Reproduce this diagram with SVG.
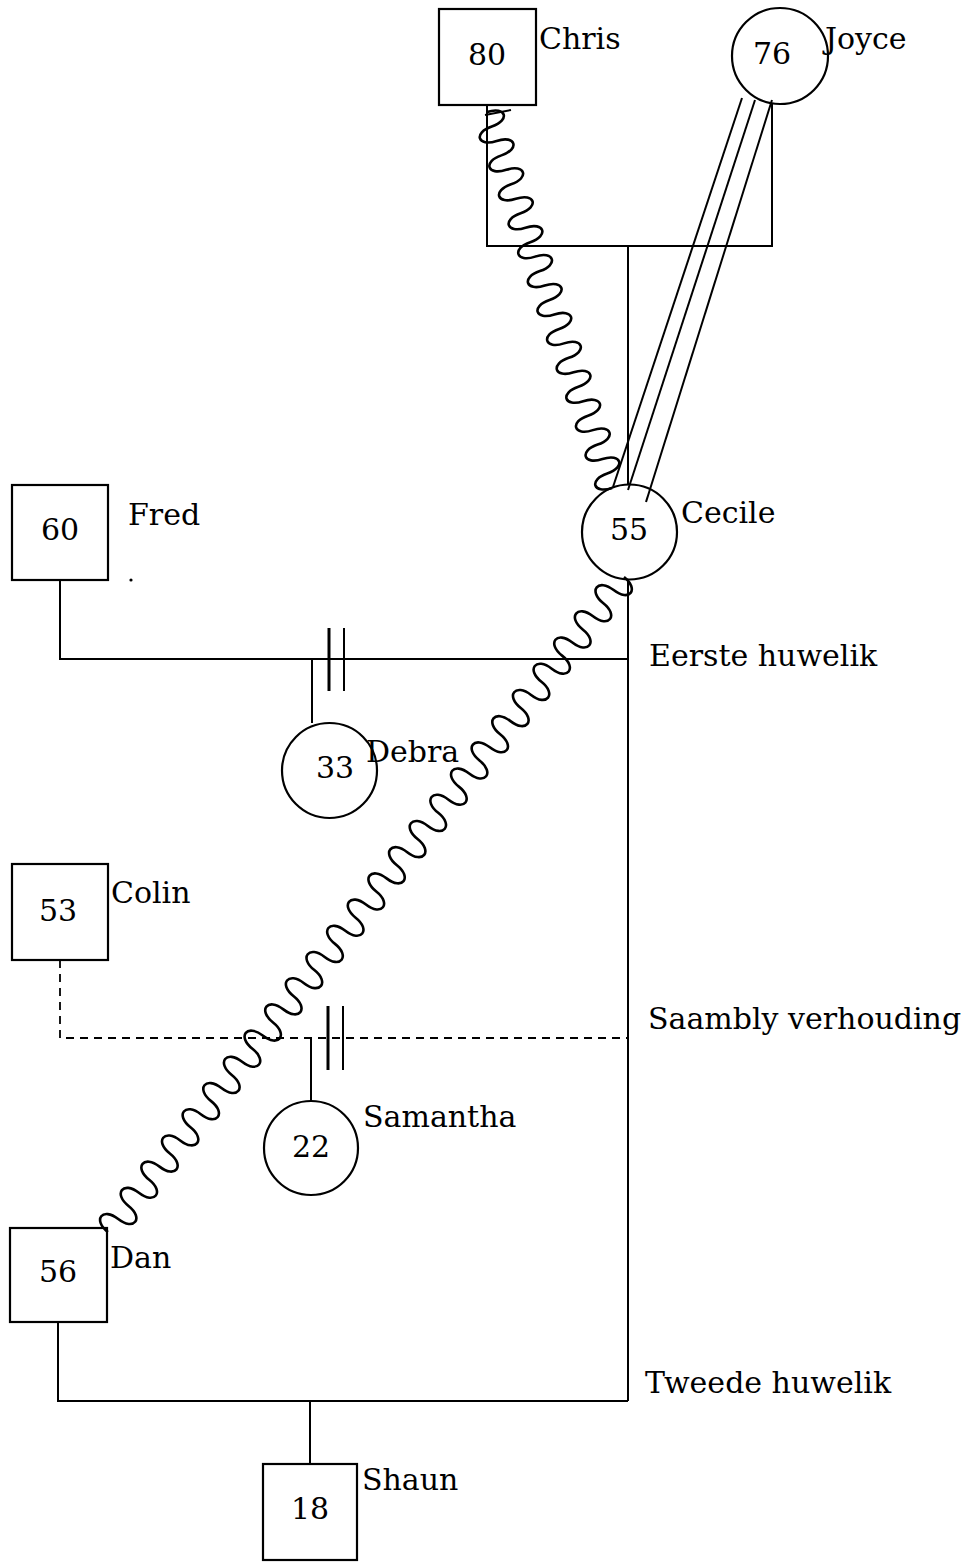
<svg xmlns="http://www.w3.org/2000/svg" width="973" height="1562" viewBox="0 0 973 1562">
<style>
.shape{fill:none;stroke:#000;stroke-width:2.2}
.ln{fill:none;stroke:#000;stroke-width:2}
.dash{fill:none;stroke:#000;stroke-width:1.8;stroke-dasharray:8 6}
.wave{fill:none;stroke:#000;stroke-width:2.6;stroke-linejoin:round}
.num{font-family:"DejaVu Serif",serif;font-size:30px;text-anchor:middle;fill:#000}
.lbl{font-family:"DejaVu Serif",serif;font-size:30px;fill:#000}
</style>
<rect width="973" height="1562" fill="#fff"/>
<g id="connectors">
  <polyline class="ln" points="487,105 487,246 772,246 772,103"/>
  <line class="ln" x1="628" y1="246" x2="628" y2="485"/>
  <line class="ln" x1="742" y1="98" x2="613" y2="487"/>
  <line class="ln" x1="755" y1="100" x2="628" y2="490"/>
  <line class="ln" x1="772" y1="100" x2="646" y2="502"/>
  <g transform="translate(487,112) rotate(71.6)">
    <path class="wave" d="M0,0 c0,-20 15.24,-20 15.24,0 c0,20 15.24,20 15.24,0 c0,-20 15.24,-20 15.24,0 c0,20 15.24,20 15.24,0 c0,-20 15.24,-20 15.24,0 c0,20 15.24,20 15.24,0 c0,-20 15.24,-20 15.24,0 c0,20 15.24,20 15.24,0 c0,-20 15.24,-20 15.24,0 c0,20 15.24,20 15.24,0 c0,-20 15.24,-20 15.24,0 c0,20 15.24,20 15.24,0 c0,-20 15.24,-20 15.24,0 c0,20 15.24,20 15.24,0 c0,-20 15.24,-20 15.24,0 c0,20 15.24,20 15.24,0 c0,-20 15.24,-20 15.24,0 c0,20 15.24,20 15.24,0 c0,-20 15.24,-20 15.24,0 c0,20 15.24,20 15.24,0 c0,-20 15.24,-20 15.24,0 c0,20 15.24,20 15.24,0 c0,-20 15.24,-20 15.24,0 c0,20 15.24,20 15.24,0 c0,-20 15.24,-20 15.24,0 c0,20 15.24,20 15.24,0"/>
  </g>
  <line class="ln" x1="485" y1="115" x2="511" y2="110"/>
  <g transform="translate(624,577) rotate(128.23)">
    <path class="wave" d="M0,0 c0,-20 16.68,-20 16.68,0 c0,20 16.68,20 16.68,0 c0,-20 16.68,-20 16.68,0 c0,20 16.68,20 16.68,0 c0,-20 16.68,-20 16.68,0 c0,20 16.68,20 16.68,0 c0,-20 16.68,-20 16.68,0 c0,20 16.68,20 16.68,0 c0,-20 16.68,-20 16.68,0 c0,20 16.68,20 16.68,0 c0,-20 16.68,-20 16.68,0 c0,20 16.68,20 16.68,0 c0,-20 16.68,-20 16.68,0 c0,20 16.68,20 16.68,0 c0,-20 16.68,-20 16.68,0 c0,20 16.68,20 16.68,0 c0,-20 16.68,-20 16.68,0 c0,20 16.68,20 16.68,0 c0,-20 16.68,-20 16.68,0 c0,20 16.68,20 16.68,0 c0,-20 16.68,-20 16.68,0 c0,20 16.68,20 16.68,0 c0,-20 16.68,-20 16.68,0 c0,20 16.68,20 16.68,0 c0,-20 16.68,-20 16.68,0 c0,20 16.68,20 16.68,0 c0,-20 16.68,-20 16.68,0 c0,20 16.68,20 16.68,0 c0,-20 16.68,-20 16.68,0 c0,20 16.68,20 16.68,0 c0,-20 16.68,-20 16.68,0 c0,20 16.68,20 16.68,0 c0,-20 16.68,-20 16.68,0 c0,20 16.68,20 16.68,0 c0,-20 16.68,-20 16.68,0 c0,20 16.68,20 16.68,0 c0,-20 16.68,-20 16.68,0 c0,20 16.68,20 16.68,0 c0,-20 16.68,-20 16.68,0 c0,20 16.68,20 16.68,0 c0,-20 16.68,-20 16.68,0 c0,20 16.68,20 16.68,0 c0,-20 16.68,-20 16.68,0 c0,20 16.68,20 16.68,0 c0,-20 16.68,-20 16.68,0 c0,20 16.68,20 16.68,0 c0,-20 16.68,-20 16.68,0 c0,20 16.68,20 16.68,0 c0,-20 16.68,-20 16.68,0 c0,20 16.68,20 16.68,0"/>
  </g>
  <line class="ln" x1="628" y1="579" x2="628" y2="1401"/>
  <polyline class="ln" points="60,580 60,659 628,659"/>
  <line class="ln" x1="312" y1="659" x2="312" y2="723"/>
  <line x1="329" y1="628" x2="329" y2="691" stroke="#000" stroke-width="3"/>
  <line class="ln" x1="344" y1="628" x2="344" y2="691"/>
  <polyline class="dash" points="60,960 60,1038 628,1038"/>
  <line class="ln" x1="311" y1="1038" x2="311" y2="1101"/>
  <line x1="328" y1="1006" x2="328" y2="1070" stroke="#000" stroke-width="3"/>
  <line class="ln" x1="343" y1="1006" x2="343" y2="1070"/>
  <polyline class="ln" points="58,1322 58,1401 628,1401"/>
  <line class="ln" x1="310" y1="1401" x2="310" y2="1464"/>
</g>
<g id="chris">
  <rect class="shape" x="439" y="9" width="97" height="96"/>
  <text class="num" x="487" y="65">80</text>
  <text class="lbl" x="539" y="49">Chris</text>
</g>
<g id="joyce">
  <circle class="shape" cx="780" cy="56" r="48"/>
  <text class="num" x="772" y="64">76</text>
  <text class="lbl" x="825" y="49">Joyce</text>
</g>
<g id="cecile">
  <circle class="shape" cx="629.5" cy="532" r="47.5"/>
  <text class="num" x="629" y="540">55</text>
  <text class="lbl" x="681" y="523">Cecile</text>
</g>
<g id="fred">
  <rect class="shape" x="12" y="485" width="96" height="95"/>
  <text class="num" x="60" y="540">60</text>
  <text class="lbl" x="128" y="525">Fred</text>
  <circle cx="131" cy="580" r="1.6" fill="#000"/>
</g>
<g id="debra">
  <circle class="shape" cx="329.5" cy="770.5" r="47.5"/>
  <text class="num" x="335" y="778">33</text>
  <text class="lbl" x="366" y="762">Debra</text>
</g>
<g id="colin">
  <rect class="shape" x="12" y="864" width="96" height="96"/>
  <text class="num" x="58" y="921">53</text>
  <text class="lbl" x="111" y="903">Colin</text>
</g>
<g id="samantha">
  <circle class="shape" cx="311" cy="1148" r="47"/>
  <text class="num" x="311" y="1157">22</text>
  <text class="lbl" x="363" y="1127">Samantha</text>
</g>
<g id="dan">
  <rect class="shape" x="10" y="1228" width="97" height="94"/>
  <text class="num" x="58" y="1282">56</text>
  <text class="lbl" x="110" y="1268">Dan</text>
</g>
<g id="shaun">
  <rect class="shape" x="263" y="1464" width="94" height="96"/>
  <text class="num" x="310" y="1519">18</text>
  <text class="lbl" x="362" y="1490">Shaun</text>
</g>
<g id="labels">
  <text class="lbl" x="649" y="666">Eerste huwelik</text>
  <text class="lbl" x="648" y="1029">Saambly verhouding</text>
  <text class="lbl" x="645" y="1393">Tweede huwelik</text>
</g>
</svg>
